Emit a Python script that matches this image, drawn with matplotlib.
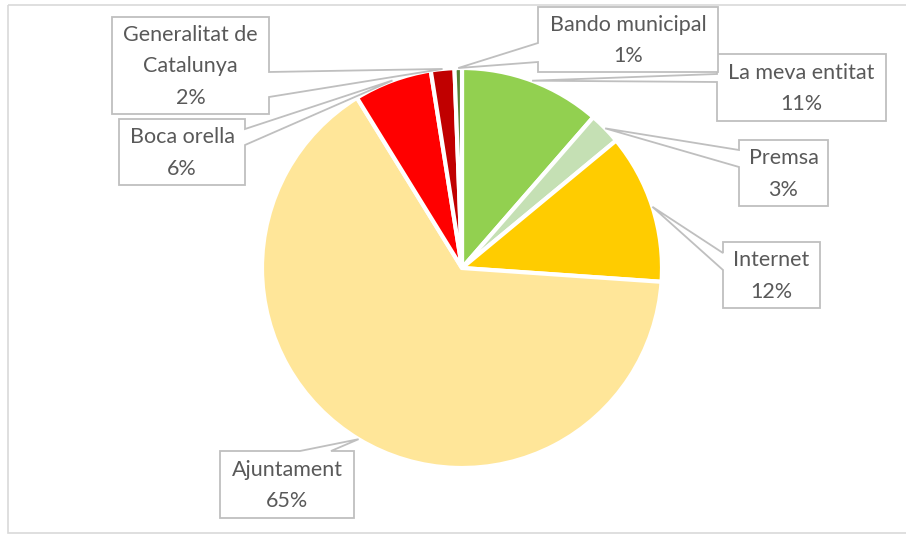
import numpy as np
import matplotlib
matplotlib.use("Agg")
import matplotlib.pyplot as plt
from matplotlib.patches import Polygon, Rectangle

plt.rcParams['font.family'] = ['Lato', 'DejaVu Sans']

# data, clockwise from 12 o'clock
labels = ["La meva entitat", "Premsa", "Internet", "Ajuntament",
          "Boca orella", "Generalitat de\nCatalunya", "Bando municipal"]
values = [11.4, 2.6, 12.1, 65.1, 6.3, 1.9, 0.6]
pct_labels = ["11%", "3%", "12%", "65%", "6%", "2%", "1%"]
colors = ["#92D050", "#C5E0B4", "#FFCC00", "#FFE699",
          "#FF0000", "#C00000", "#548235"]

W, H = 906, 534
fig = plt.figure(figsize=(W / 100, H / 100), dpi=100)
ax = fig.add_axes([0, 0, 1, 1])

cx, cy, r = 462, 268, 200

# pie (y axis flipped below, so counterclock here shows up clockwise)
wedges, _ = ax.pie(values, colors=colors, startangle=-90, counterclock=True,
                   center=(cx, cy), radius=r, frame=True,
                   wedgeprops=dict(edgecolor='white', linewidth=3))
ax.set_xlim(0, W)
ax.set_ylim(H, 0)
ax.set_aspect('equal')
ax.axis('off')

# outer chart border
ax.add_patch(Rectangle((8, 5), W + 10, 528, fill=False, edgecolor='#D9D9D9', lw=1.2))

# callout boxes: (x0, y0, x1, y1), side of pointer, base offsets along that side
boxes = [
    ((717, 54, 886, 121), 'left', (20, 28)),     # La meva entitat
    ((739, 140, 828, 206), 'left', (10, 27)),    # Premsa
    ((723, 242, 820, 308), 'left', (11, 28)),    # Internet
    ((220, 451, 354, 518), 'top', (80, 111)),    # Ajuntament
    ((119, 119, 245, 185), 'right', (10, 26)),   # Boca orella
    ((112, 17, 269, 114), 'right', (55, 80)),    # Generalitat
    ((538, 7, 718, 72), 'left', (36, 55)),       # Bando
]

# tip points at the outer edge of each slice, mid angle
cum = np.cumsum([0] + values)
total = cum[-1]
for i, (lab, pct) in enumerate(zip(labels, pct_labels)):
    mid = (cum[i] + cum[i + 1]) / 2 / total * 2 * np.pi
    tx = cx + r * np.sin(mid)
    ty = cy - r * np.cos(mid)
    (x0, y0, x1, y1), side, (b1, b2) = boxes[i]
    if side == 'left':
        pts = [(x0, y0), (x1, y0), (x1, y1), (x0, y1),
               (x0, y0 + b2), (tx, ty), (x0, y0 + b1)]
    elif side == 'right':
        pts = [(x0, y0), (x1, y0), (x1, y0 + b1), (tx, ty),
               (x1, y0 + b2), (x1, y1), (x0, y1)]
    else:
        pts = [(x0, y0), (x0 + b1, y0), (tx, ty), (x0 + b2, y0),
               (x1, y0), (x1, y1), (x0, y1)]
    ax.add_patch(Polygon(pts, closed=True, facecolor='white',
                         edgecolor='#BFBFBF', lw=1.3, zorder=5))
    ax.text((x0 + x1) / 2, (y0 + y1) / 2 + 1, lab + "\n" + pct,
            ha='center', va='center', fontsize=15.5, color='#595959',
            linespacing=1.7, zorder=6)

fig.savefig("out.png", dpi=100)
